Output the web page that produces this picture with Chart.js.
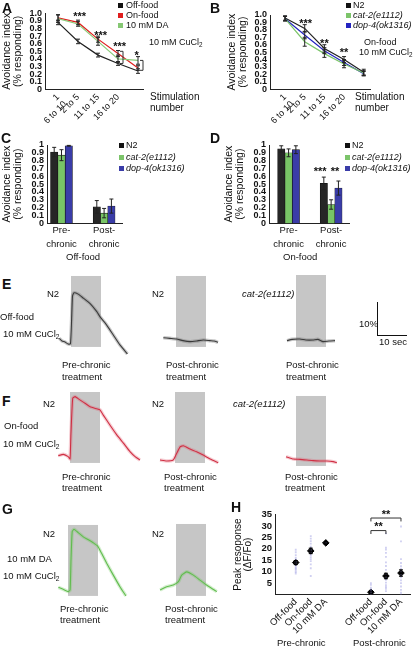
<!DOCTYPE html>
<html>
<head>
<meta charset="utf-8">
<title>Avoidance and calcium imaging figure</title>
<script src="https://cdn.jsdelivr.net/npm/chart.js@4"></script>
<style>
  body { margin: 0; background: #fff; }
  #fig { position: relative; width: 417px; height: 648px; overflow: hidden; font-family: "Liberation Sans", Arial, sans-serif; color: #111; }
  #fig canvas { position: absolute; }
  .t { position: absolute; font-size: 9.5px; line-height: 1; white-space: nowrap; }
  .s { font-size: 9px; }
  .i { font-style: italic; }
  .L { position: absolute; font-size: 14px; font-weight: bold; line-height: 1; }
  .sq { position: absolute; width: 5px; height: 5px; }
  sub { font-size: 70%; vertical-align: -2px; line-height: 0; }
  .bar { position: absolute; border-left: 1px solid #111; border-bottom: 1px solid #111; }
</style>
</head>
<body>
<div id="fig">
  <canvas id="cA" width="150" height="125" style="left:0;top:0"></canvas>
  <canvas id="cB" width="150" height="125" style="left:225px;top:0"></canvas>
  <canvas id="cC" width="130" height="135" style="left:0;top:130px"></canvas>
  <canvas id="cD" width="135" height="135" style="left:222px;top:130px"></canvas>
  <canvas id="e1" width="95" height="90"></canvas>
  <canvas id="e2" width="95" height="90"></canvas>
  <canvas id="e3" width="95" height="90"></canvas>
  <canvas id="f1" width="95" height="90"></canvas>
  <canvas id="f2" width="95" height="90"></canvas>
  <canvas id="f3" width="95" height="90"></canvas>
  <canvas id="g1" width="95" height="90"></canvas>
  <canvas id="g2" width="95" height="90"></canvas>
  <canvas id="cH" width="185" height="143" style="left:230px;top:505px"></canvas>

  <!-- A -->
  <div class="L" style="left:2px;top:1px">A</div>
  <div class="sq" style="left:118px;top:2.5px;background:#111"></div>
  <div class="t s" style="left:126px;top:0.5px">Off-food</div>
  <div class="sq" style="left:118px;top:12.5px;background:#e01e1e"></div>
  <div class="t s" style="left:126px;top:10.5px">On-food</div>
  <div class="sq" style="left:118px;top:22.5px;background:#86c874"></div>
  <div class="t s" style="left:126px;top:20.5px">10 mM DA</div>
  <div class="t s" style="left:149px;top:37.5px">10 mM CuCl<sub>2</sub></div>
  <div class="t" style="left:150px;top:92px;font-size:10px">Stimulation</div>
  <div class="t" style="left:150px;top:103px;font-size:10px">number</div>

  <!-- B -->
  <div class="L" style="left:210px;top:1px">B</div>
  <div class="sq" style="left:346px;top:2.5px;background:#111"></div>
  <div class="t s" style="left:353px;top:0.5px">N2</div>
  <div class="sq" style="left:346px;top:12.5px;background:#7cc46a"></div>
  <div class="t s i" style="left:353px;top:10.5px">cat-2(e1112)</div>
  <div class="sq" style="left:346px;top:22.5px;background:#2424c0"></div>
  <div class="t s i" style="left:353px;top:20.5px">dop-4(ok1316)</div>
  <div class="t s" style="left:364px;top:37.5px">On-food</div>
  <div class="t s" style="left:359px;top:47.5px">10 mM CuCl<sub>2</sub></div>
  <div class="t" style="left:355px;top:92px;font-size:10px">Stimulation</div>
  <div class="t" style="left:355px;top:103px;font-size:10px">number</div>

  <!-- C -->
  <div class="L" style="left:1px;top:131px">C</div>
  <div class="sq" style="left:119px;top:142.5px;background:#111"></div>
  <div class="t s" style="left:126px;top:140.5px">N2</div>
  <div class="sq" style="left:119px;top:154.5px;background:#7cc46a"></div>
  <div class="t s i" style="left:126px;top:152.5px">cat-2(e1112)</div>
  <div class="sq" style="left:119px;top:165.5px;background:#3a3ca8"></div>
  <div class="t s i" style="left:126px;top:163.5px">dop-4(ok1316)</div>
  <div class="t" style="left:66px;top:252px">Off-food</div>

  <!-- D -->
  <div class="L" style="left:210px;top:131px">D</div>
  <div class="sq" style="left:345px;top:142.5px;background:#111"></div>
  <div class="t s" style="left:352px;top:140.5px">N2</div>
  <div class="sq" style="left:345px;top:154.5px;background:#7cc46a"></div>
  <div class="t s i" style="left:352px;top:152.5px">cat-2(e1112)</div>
  <div class="sq" style="left:345px;top:165.5px;background:#3a3ca8"></div>
  <div class="t s i" style="left:352px;top:163.5px">dop-4(ok1316)</div>
  <div class="t" style="left:283px;top:252px">On-food</div>

  <!-- E -->
  <div class="L" style="left:2px;top:277px">E</div>
  <div class="t" style="left:47px;top:288.5px">N2</div>
  <div class="t" style="left:0;top:311.5px">Off-food</div>
  <div class="t" style="left:3px;top:328.5px">10 mM CuCl<sub>2</sub></div>
  <div class="t" style="left:62px;top:359.5px">Pre-chronic</div>
  <div class="t" style="left:62px;top:371.5px">treatment</div>
  <div class="t" style="left:152px;top:288.5px">N2</div>
  <div class="t" style="left:166px;top:359.5px">Post-chronic</div>
  <div class="t" style="left:166px;top:371.5px">treatment</div>
  <div class="t i" style="left:242px;top:288.5px">cat-2(e1112)</div>
  <div class="t" style="left:286px;top:359.5px">Post-chronic</div>
  <div class="t" style="left:286px;top:371.5px">treatment</div>
  <div class="bar" style="left:377px;top:302px;width:29px;height:33px"></div>
  <div class="t" style="left:359px;top:318.5px">10%</div>
  <div class="t" style="left:379px;top:337px">10 sec</div>

  <!-- F -->
  <div class="L" style="left:2px;top:394px">F</div>
  <div class="t" style="left:43px;top:398.5px">N2</div>
  <div class="t" style="left:4px;top:420.5px">On-food</div>
  <div class="t" style="left:3px;top:438.5px">10 mM CuCl<sub>2</sub></div>
  <div class="t" style="left:62px;top:471.5px">Pre-chronic</div>
  <div class="t" style="left:62px;top:482.5px">treatment</div>
  <div class="t" style="left:152px;top:398.5px">N2</div>
  <div class="t" style="left:164px;top:471.5px">Post-chronic</div>
  <div class="t" style="left:164px;top:482.5px">treatment</div>
  <div class="t i" style="left:233px;top:398.5px">cat-2(e1112)</div>
  <div class="t" style="left:285px;top:471.5px">Post-chronic</div>
  <div class="t" style="left:285px;top:482.5px">treatment</div>

  <!-- G -->
  <div class="L" style="left:2px;top:502px">G</div>
  <div class="t" style="left:43px;top:528.5px">N2</div>
  <div class="t" style="left:7px;top:553.5px">10 mM DA</div>
  <div class="t" style="left:3px;top:570.5px">10 mM CuCl<sub>2</sub></div>
  <div class="t" style="left:60px;top:603.5px">Pre-chronic</div>
  <div class="t" style="left:60px;top:614.5px">treatment</div>
  <div class="t" style="left:152px;top:528.5px">N2</div>
  <div class="t" style="left:165px;top:603.5px">Post-chronic</div>
  <div class="t" style="left:165px;top:614.5px">treatment</div>

  <!-- H -->
  <div class="L" style="left:231px;top:500px">H</div>
  <div class="t" style="left:277px;top:638px">Pre-chronic</div>
  <div class="t" style="left:353px;top:638px">Post-chronic</div>
</div>

<script>
// A, B: avoidance over repeated stimulations
var stimIndex = [1, 2, 3, 4, 5];
var stimLabels = [['1', '6 to 10'], '2 to 5', '11 to 15', '16 to 20', ''];

var aOffFood = [0.88, 0.63, 0.45, 0.34, 0.24];
var aOffFoodErr = [0.03, 0.03, 0.025, 0.025, 0.03];
var aOnFood = [0.94, 0.88, 0.66, 0.47, 0.28];
var aOnFoodErr = [0.04, 0.03, 0.04, 0.04, 0.03];
var aDA = [0.93, 0.86, 0.63, 0.40, 0.38];
var aDAErr = [0.05, 0.03, 0.05, 0.05, 0.05];

var bN2 = [0.96, 0.82, 0.55, 0.40, 0.23];
var bN2Err = [0.03, 0.05, 0.05, 0.04, 0.04];
var bCat2 = [0.95, 0.64, 0.48, 0.34, 0.22];
var bCat2Err = [0.03, 0.06, 0.05, 0.05, 0.03];
var bDop4 = [0.95, 0.73, 0.52, 0.36, 0.21];
var bDop4Err = [0.03, 0.05, 0.04, 0.04, 0.03];

// C, D: pre / post chronic
var groupPos = [1, 2];
var groupLabels = [['Pre-', 'chronic'], ['Post-', 'chronic']];
var cN2 = [0.91, 0.21], cN2Err = [0.06, 0.08];
var cCat2 = [0.87, 0.13], cCat2Err = [0.07, 0.06];
var cDop4 = [0.99, 0.22], cDop4Err = [0.005, 0.09];
var dN2 = [0.95, 0.51], dN2Err = [0.04, 0.08];
var dCat2 = [0.90, 0.24], dCat2Err = [0.05, 0.06];
var dDop4 = [0.94, 0.45], dDop4Err = [0.05, 0.09];

// E-G: calcium traces, time (s) from stimulus onset and dF/F (%)
var stimWindow = [0, 10];
var e1Time = [-3.9, -3.0, -2.0, -1.0, -0.2, 0.2, 0.5, 1.0, 2.4, 4.1, 6.3, 8.6, 9.7, 11.9, 14.1, 16.3, 18.8];
var e1Value = [0.5, -0.3, -0.6, -1.2, -1.2, 6.1, 13.3, 14.3, 13.9, 12.7, 11.1, 8.6, 7.0, 4.5, 1.5, -1.5, -4.2];
var e2Time = [-4.2, -2.0, 0.2, 2.3, 4.7, 6.9, 9.1, 11.3, 12.7, 14.0];
var e2Value = [0.7, 0.5, 0.3, -0.2, -0.5, -0.3, 0, -0.2, -0.3, -0.7];
var e3Time = [-3.0, -1.3, 1.3, 3.3, 5.7, 7.3, 9.0, 11.0, 13.0];
var e3Value = [-0.2, 0.2, 0.3, 0, 0, 0.2, -0.5, -0.3, -0.2];
var f1Time = [-3.9, -2.2, -0.6, 0, 0.3, 0.9, 1.7, 3.3, 5.0, 6.7, 8.9, 10.0, 11.1, 13.3, 15.6, 17.8, 20.0, 21.7, 23.3];
var f1Value = [0.4, 0.8, 0.1, -0.6, 6.7, 17.8, 18.3, 17.3, 16.3, 15.2, 14.6, 14.3, 12.7, 9.7, 6.7, 4.2, 1.6, 0.1, -0.9];
var f2Time = [-5.0, -2.8, -0.6, 0.3, 1.7, 2.8, 5.0, 7.2, 9.4, 11.7, 14.4];
var f2Value = [0, -0.3, 0, 1.5, 4.0, 4.3, 3.3, 2.5, 1.5, 0.3, -0.8];
var f3Time = [-3.3, -0.9, 1.3, 3.6, 5.7, 8.0, 10.3, 12.4, 13.6];
var f3Value = [1.0, 0.3, 0.2, 0, -0.2, -0.3, -0.3, -0.5, -0.8];
var g1Time = [-3.2, -1.6, 0.1, 0.7, 1.0, 1.4, 2.0, 3.4, 5.1, 6.8, 8.4, 9.9, 11.2, 12.9, 15.1, 17.3, 19.3];
var g1Value = [0.2, -0.4, -1.1, -0.6, 8.5, 17.1, 17.8, 16.8, 15.5, 14.6, 13.7, 12.7, 10.5, 7.5, 3.9, 0.4, -2.4];
var g2Time = [-5.3, -3.1, -0.9, 0.8, 1.9, 3.6, 5.8, 8.0, 10.2, 12.4, 13.6];
var g2Value = [-0.6, 0.4, 0.9, 1.9, 3.9, 4.9, 3.9, 2.4, 0.9, -0.4, -1.1];

// H: peak responses
var hGroupPos = [1, 2, 3, 6, 7, 8];
var hTickLabels = ['Off-food', 'On-food', '10 mM DA', 'Off-food', 'On-food', '10 mM DA'];
var hMean = [14.0, 19.1, 22.6, 1.0, 8.1, 9.4];
var hSem = [0.9, 1.2, 0.5, 0.5, 1.2, 1.4];
var hPreOff = [9.2, 9.8, 10.5, 11.1, 11.6, 12.2, 12.9, 13.4, 14.3, 15.1, 16.0, 17.2, 18.5, 19.6];
var hPreOn = [8.1, 11.5, 13.2, 14.6, 15.5, 16.4, 17.3, 18.2, 19.4, 20.1, 21.0, 22.3, 23.4, 24.5, 25.6];
var hPreDA = [22.6];
var hPostOff = [0.2, 0.6, 1.0, 1.5, 2.1, 3.0, 4.2, 5.0];
var hPostOn = [1.5, 2.5, 3.3, 4.1, 5.2, 6.4, 7.5, 9.0, 10.8, 12.5, 14.1, 16.5, 18.2, 19.7, 20.5, 26.8];
var hPostDA = [0, 0.8, 2.0, 3.5, 5.0, 6.2, 7.5, 8.6, 10.1, 11.3, 12.4, 13.8, 15.5, 23.3, 29.8];

var FONT = '"Liberation Sans", Arial, sans-serif';
Chart.defaults.font.family = FONT;
Chart.defaults.color = '#111';
Chart.defaults.plugins.legend.display = false;
Chart.defaults.plugins.tooltip.enabled = false;

// error bars, stimulus boxes, brackets and stars
var extras = {
  id: 'extras',
  beforeDatasetsDraw: function (chart, args, opts) {
    var ctx = chart.ctx, x = chart.scales.x, y = chart.scales.y;
    (opts.boxes || []).forEach(function (b) {
      var l = x.getPixelForValue(b.x0), r = x.getPixelForValue(b.x1);
      var t = y.getPixelForValue(b.y1), bt = y.getPixelForValue(b.y0);
      ctx.save();
      ctx.fillStyle = b.color;
      ctx.fillRect(l, t, r - l, bt - t);
      ctx.restore();
    });
  },
  afterDatasetsDraw: function (chart, args, opts) {
    var ctx = chart.ctx, x = chart.scales.x, y = chart.scales.y;
    ctx.save();
    ctx.lineWidth = 1;
    chart.data.datasets.forEach(function (ds, i) {
      if (!ds.errors) return;
      ctx.strokeStyle = ds.errorColor || '#222';
      var cap = ds.capWidth || 2;
      chart.getDatasetMeta(i).data.forEach(function (el, j) {
        var d = ds.data[j], v = typeof d === 'object' ? d.y : d, e = ds.errors[j];
        var top = y.getPixelForValue(v + e), bot = y.getPixelForValue(v - e);
        ctx.beginPath();
        ctx.moveTo(el.x, top); ctx.lineTo(el.x, bot);
        ctx.moveTo(el.x - cap, top); ctx.lineTo(el.x + cap, top);
        ctx.moveTo(el.x - cap, bot); ctx.lineTo(el.x + cap, bot);
        ctx.stroke();
      });
    });
    ctx.strokeStyle = '#333';
    (opts.brackets || []).forEach(function (b) {
      ctx.beginPath();
      if (b.x0 !== undefined) {
        var l = x.getPixelForValue(b.x0), r = x.getPixelForValue(b.x1);
        var py = y.getPixelForValue(b.y), pd = y.getPixelForValue(b.y - b.drop);
        ctx.moveTo(l, pd); ctx.lineTo(l, py); ctx.lineTo(r, py); ctx.lineTo(r, pd);
      } else {
        var px = x.getPixelForValue(b.x) + b.dx;
        var t = y.getPixelForValue(b.y1), bt = y.getPixelForValue(b.y0);
        ctx.moveTo(px - 3, t); ctx.lineTo(px, t); ctx.lineTo(px, bt); ctx.lineTo(px - 3, bt);
      }
      ctx.stroke();
    });
    ctx.fillStyle = '#111';
    ctx.textAlign = 'center';
    ctx.textBaseline = 'middle';
    ctx.font = 'bold 11px ' + FONT;
    (opts.marks || []).forEach(function (m) {
      ctx.fillText(m.text, x.getPixelForValue(m.x), y.getPixelForValue(m.y) + 2.5);
    });
    ctx.restore();
  }
};
Chart.register(extras);

function fixWidth(w) { return function (s) { s.width = w; }; }
function fixHeight(h) { return function (s) { s.height = h; }; }

function avoidanceAxis(fmt) {
  return {
    min: 0, max: 1,
    grid: { display: false, drawTicks: false },
    border: { color: '#222' },
    ticks: { stepSize: 0.1, autoSkip: false, padding: 3, font: { size: 9, weight: 'bold' }, callback: fmt },
    title: { display: true, text: ['Avoidance index', '(% responding)'], font: { size: 10.5, lineHeight: 1.05 }, padding: { top: 2, bottom: 0 } },
    afterFit: fixWidth(45)
  };
}

function stimAxis(min, max) {
  return {
    type: 'linear', min: min, max: max,
    grid: { display: false, drawTicks: false },
    border: { color: '#222' },
    afterBuildTicks: function (s) { s.ticks = stimIndex.map(function (v) { return { value: v }; }); },
    ticks: { autoSkip: false, minRotation: 45, maxRotation: 45, padding: 3, font: { size: 9, lineHeight: 1.1 },
      callback: function (v) { return stimLabels[v - 1]; } },
    afterFit: fixHeight(35.7)
  };
}

function lineSet(values, errors, color) {
  return {
    data: values.map(function (v, i) { return { x: stimIndex[i], y: v }; }),
    errors: errors, borderColor: color, backgroundColor: color,
    borderWidth: 1.2, pointRadius: 0, tension: 0
  };
}

function fmtDecimal(v) { return v === 0 ? '0' : v.toFixed(1); }
function fmtBar(v) { return (v === 0 || Math.abs(v - 1) < 1e-6) ? String(Math.round(v)) : v.toFixed(1); }

new Chart(document.getElementById('cA'), {
  type: 'line',
  data: { datasets: [
    lineSet(aDA, aDAErr, '#8ccb7b'),
    lineSet(aOnFood, aOnFoodErr, '#e01e1e'),
    lineSet(aOffFood, aOffFoodErr, '#222')
  ] },
  options: {
    responsive: false, animation: false, events: [],
    layout: { padding: { top: 13.3, right: 7 } },
    scales: { x: stimAxis(0.35, 5.25), y: avoidanceAxis(fmtDecimal) },
    plugins: { extras: {
      marks: [
        { x: 2.08, y: 0.98, text: '***' }, { x: 3.13, y: 0.74, text: '***' },
        { x: 4.08, y: 0.59, text: '***' }, { x: 4.93, y: 0.47, text: '*' }
      ],
      brackets: [{ x: 4, dx: 5, y0: 0.34, y1: 0.50 }, { x: 5, dx: 5, y0: 0.25, y1: 0.38 }]
    } }
  }
});

new Chart(document.getElementById('cB'), {
  type: 'line',
  data: { datasets: [
    lineSet(bCat2, bCat2Err, '#7cc46a'),
    lineSet(bDop4, bDop4Err, '#2424c0'),
    lineSet(bN2, bN2Err, '#222')
  ] },
  options: {
    responsive: false, animation: false, events: [],
    layout: { padding: { top: 15, right: 5 } },
    scales: { x: stimAxis(0.235, 5.32), y: avoidanceAxis(fmtDecimal) },
    plugins: { extras: {
      marks: [
        { x: 2.05, y: 0.91, text: '***' }, { x: 3.0, y: 0.65, text: '**' }, { x: 4.0, y: 0.52, text: '**' }
      ]
    } }
  }
});

function barSet(values, errors, color) {
  return {
    data: values.map(function (v, i) { return { x: groupPos[i], y: v }; }),
    errors: errors, backgroundColor: color, borderColor: '#111', borderWidth: 0.6, barThickness: 7.3
  };
}

function groupAxis(min, max) {
  return {
    type: 'linear', min: min, max: max, offset: false,
    grid: { display: false, drawTicks: false },
    border: { color: '#222' },
    afterBuildTicks: function (s) { s.ticks = groupPos.map(function (v) { return { value: v }; }); },
    ticks: { autoSkip: false, maxRotation: 0, padding: 0, font: { size: 9.5, lineHeight: 1.45 },
      callback: function (v) { return groupLabels[v - 1]; } },
    afterFit: fixHeight(41.7)
  };
}

new Chart(document.getElementById('cC'), {
  type: 'bar',
  data: { datasets: [
    barSet(cN2, cN2Err, '#262626'),
    barSet(cCat2, cCat2Err, '#78c466'),
    barSet(cDop4, cDop4Err, '#3a3ca8')
  ] },
  options: {
    responsive: false, animation: false, events: [],
    layout: { padding: { top: 15, right: 8 } },
    scales: { x: groupAxis(0.66, 2.42), y: Object.assign(avoidanceAxis(fmtBar), { afterFit: fixWidth(47) }) }
  }
});

new Chart(document.getElementById('cD'), {
  type: 'bar',
  data: { datasets: [
    barSet(dN2, dN2Err, '#262626'),
    barSet(dCat2, dCat2Err, '#78c466'),
    barSet(dDop4, dDop4Err, '#3a3ca8')
  ] },
  options: {
    responsive: false, animation: false, events: [],
    layout: { padding: { top: 15, right: 8 } },
    scales: { x: groupAxis(0.54, 2.42), y: Object.assign(avoidanceAxis(fmtBar), { afterFit: fixWidth(47) }) },
    plugins: { extras: {
      marks: [{ x: 1.74, y: 0.69, text: '***' }, { x: 2.09, y: 0.69, text: '**' }]
    } }
  }
});

// trace panels: 3 px per second, 3.3 px per % dF/F
function traceChart(id, x0, yb, time, value, color, band, boxLow, boxHigh) {
  var c = document.getElementById(id);
  c.style.left = (x0 - 18) + 'px';
  c.style.top = (yb - 70) + 'px';
  var pts = time.map(function (t, i) { return { x: t, y: value[i] }; });
  new Chart(c, {
    type: 'line',
    data: { datasets: [
      { data: pts, borderColor: band, borderWidth: 3.5, pointRadius: 0, tension: 0.15 },
      { data: pts, borderColor: color, borderWidth: 1.1, pointRadius: 0, tension: 0.15 }
    ] },
    options: {
      responsive: false, animation: false, events: [],
      layout: { padding: 0 },
      scales: {
        x: { type: 'linear', display: false, min: -18 / 3, max: 77 / 3 },
        y: { display: false, min: -20 / 3.3, max: 70 / 3.3 }
      },
      plugins: { extras: { boxes: [{ x0: stimWindow[0], x1: stimWindow[1], y0: boxLow, y1: boxHigh, color: '#c6c6c6' }] } }
    }
  });
}

var greyBand = 'rgba(120,120,120,0.4)', redBand = 'rgba(225,90,110,0.3)', greenBand = 'rgba(110,200,90,0.3)';
traceChart('e1', 71, 340, e1Time, e1Value, '#111', greyBand, -2.1, 19.4);
traceChart('e2', 176, 340, e2Time, e2Value, '#111', greyBand, -2.1, 19.4);
traceChart('e3', 296, 340, e3Time, e3Value, '#111', greyBand, -2.1, 19.7);
traceChart('f1', 70, 457, f1Time, f1Value, '#c81e32', redBand, -1.8, 19.7);
traceChart('f2', 175, 460, f2Time, f2Value, '#c81e32', redBand, -0.9, 20.6);
traceChart('f3', 296, 460, f3Time, f3Value, '#c81e32', redBand, -1.8, 19.4);
traceChart('g1', 68, 588, g1Time, g1Value, '#5cb84a', greenBand, -2.4, 19.1);
traceChart('g2', 176, 588, g2Time, g2Value, '#5cb84a', greenBand, -2.4, 19.4);

// H
var hGroups = [hPreOff, hPreOn, hPreDA, hPostOff, hPostOn, hPostDA];
var hDots = [];
hGroups.forEach(function (g, i) {
  g.forEach(function (v) { hDots.push({ x: hGroupPos[i], y: v }); });
});

new Chart(document.getElementById('cH'), {
  type: 'scatter',
  data: { datasets: [
    { data: hDots, pointStyle: 'rect', pointRadius: 1.3, backgroundColor: 'rgba(150,150,225,0.45)', borderWidth: 0 },
    { data: hMean.map(function (v, i) { return { x: hGroupPos[i], y: v }; }), errors: hSem, errorColor: '#000', capWidth: 0,
      pointStyle: 'rectRot', pointRadius: 3.3, backgroundColor: '#000', borderColor: '#000' }
  ] },
  options: {
    responsive: false, animation: false, events: [],
    layout: { padding: { top: 9.6, right: 5 } },
    scales: {
      x: {
        type: 'linear', min: -0.38, max: 8.6,
        grid: { display: false, drawTicks: false },
        border: { color: '#222' },
        afterBuildTicks: function (s) { s.ticks = hGroupPos.map(function (v) { return { value: v }; }); },
        ticks: { autoSkip: false, minRotation: 45, maxRotation: 45, padding: 2, font: { size: 9.5 },
          callback: function (v) { return hTickLabels[hGroupPos.indexOf(v)]; } },
        afterFit: fixHeight(53.5)
      },
      y: {
        min: 0, max: 35,
        grid: { display: false, drawTicks: false },
        border: { color: '#222' },
        ticks: { stepSize: 5, autoSkip: false, padding: 3, font: { size: 9.5, weight: 'bold' },
          callback: function (v) { return v === 0 ? '' : v; } },
        title: { display: true, text: ['Peak resoponse', '(\u0394F/Fo)'], font: { size: 10, lineHeight: 1.0 }, padding: { top: 3, bottom: 0 } },
        afterFit: fixWidth(45)
      }
    },
    plugins: { extras: {
      brackets: [{ x0: 6, x1: 8, y: 33.5, drop: 1.5 }, { x0: 6, x1: 7, y: 28.0, drop: 1.5 }],
      marks: [{ x: 7, y: 35.9, text: '**' }, { x: 6.5, y: 30.8, text: '**' }]
    } }
  }
});
</script>
</body>
</html>
